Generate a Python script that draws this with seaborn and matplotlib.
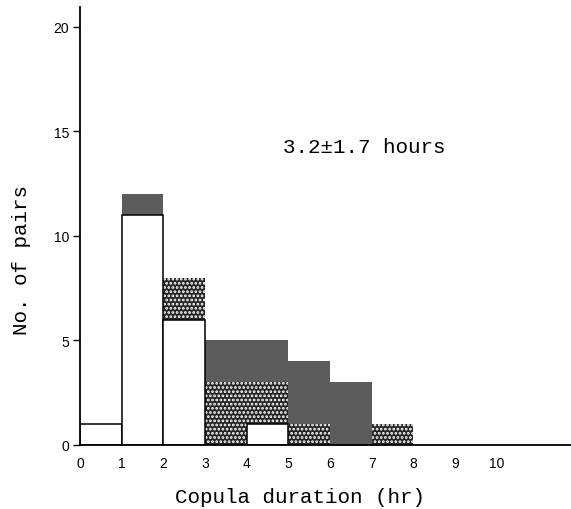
import numpy as np
import pandas as pd
import seaborn as sns
import matplotlib
matplotlib.use("Agg")
import matplotlib.pyplot as plt

# Data (counts per 1-hr bin, stacked: open bottom, cross-hatched middle, dark top)
bin_left = [0, 1, 2, 3, 4, 5, 6, 7]
open_counts = [1, 11, 6, 0, 1, 0, 0, 0]
cross_counts = [0, 0, 2, 3, 2, 1, 0, 1]
dark_counts = [0, 1, 0, 2, 2, 3, 3, 0]
bin_edges = [0, 1, 2, 3, 4, 5, 6, 7, 8]
x_ticks = [0, 1, 2, 3, 4, 5, 6, 7, 8, 9, 10]
y_ticks = [0, 5, 10, 15, 20]
annotation = "3.2±1.7 hours"
x_label = "Copula duration (hr)"
y_label = "No. of pairs"

df = pd.DataFrame({
    "start": bin_left,
    "open": open_counts,
    "cross": cross_counts,
    "dark": dark_counts,
})
df["lvl_open"] = df["open"]
df["lvl_cross"] = df["open"] + df["cross"]
df["lvl_total"] = df["open"] + df["cross"] + df["dark"]

sns.set_style("ticks")
plt.rcParams["hatch.linewidth"] = 1.3
plt.rcParams["text.color"] = "black"
plt.rcParams["axes.labelcolor"] = "black"
plt.rcParams["xtick.color"] = "black"
plt.rcParams["ytick.color"] = "black"

fig = plt.figure(figsize=(5.71, 5.10), dpi=100)
ax = fig.add_axes([80 / 571, 64 / 510, 491 / 571, 438 / 510])

# dark (top) layer
sns.histplot(data=df, x="start", weights="lvl_total", bins=bin_edges, ax=ax,
             stat="count", facecolor="#5c5c5c", edgecolor="none",
             linewidth=0, alpha=1)
# cross-hatched (middle) layer: dark ground with white dots
sns.histplot(data=df, x="start", weights="lvl_cross", bins=bin_edges, ax=ax,
             stat="count", facecolor="#262626", edgecolor="white",
             hatch="....", linewidth=0, alpha=1)
# open (bottom) layer
sns.histplot(data=df, x="start", weights="lvl_open", bins=bin_edges, ax=ax,
             stat="count", facecolor="white", edgecolor="black",
             linewidth=1.1, alpha=1)

ax.set_xlim(0, 11.78)
ax.set_ylim(0, 20.95)
ax.set_xticks(x_ticks)
ax.set_yticks(y_ticks)
ax.tick_params(axis="x", length=0, labelsize=10, pad=8)
ax.tick_params(axis="y", length=5, width=1, labelsize=10, pad=3)
for lab in ax.get_xticklabels() + ax.get_yticklabels():
    lab.set_family("Liberation Sans")

sns.despine(ax=ax)
for s in ("left", "bottom"):
    ax.spines[s].set_linewidth(1.3)
    ax.spines[s].set_color("black")

mono = "Liberation Mono"
ax.set_xlabel(x_label, fontsize=15, family=mono, va="center")
ax.xaxis.set_label_coords(220 / 491, -52 / 438)
ax.set_ylabel(y_label, fontsize=15, family=mono, va="center")
ax.yaxis.set_label_coords(-58 / 491, 186 / 438)

ax.text(6.83, 14.3, annotation, fontsize=15, family=mono,
        ha="center", va="center")

fig.savefig("out.png", dpi=100)
